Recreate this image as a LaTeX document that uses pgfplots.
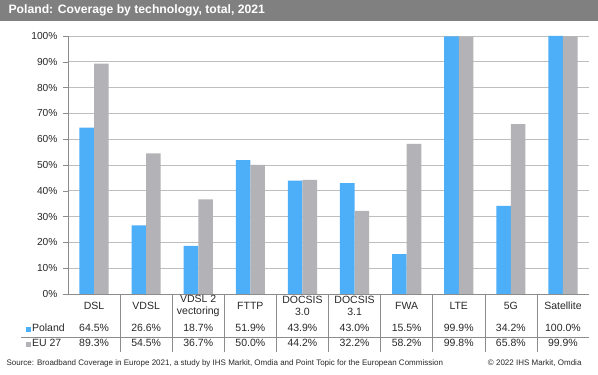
\documentclass[border=0pt]{standalone}
\usepackage{pgfplots}
\pgfplotsset{compat=1.18}
\usepackage{fontspec}
\setmainfont{Liberation Sans}
\definecolor{pl}{RGB}{77,175,248}
\definecolor{eu}{RGB}{179,179,183}
\definecolor{titlebar}{RGB}{128,128,128}
\definecolor{gridc}{RGB}{190,190,190}
\definecolor{axc}{RGB}{140,140,140}
\definecolor{txt}{RGB}{40,40,40}
\begin{document}
\begin{tikzpicture}[x=1pt,y=1pt]
\useasboundingbox (0,0) rectangle (598,375);
\fill[white] (0,0) rectangle (598,375);
\fill[titlebar] (0,354) rectangle (598,375);
\node[anchor=west,text=white,font=\fontsize{12.2}{14}\selectfont\bfseries] at (5,364.5) {Poland: Coverage by technology, total, 2021};
\begin{axis}[
  at={(68pt,81pt)}, anchor=south west,
  scale only axis, width=521pt, height=258pt,
  xmin=0, xmax=10, ymin=0, ymax=100,
  ybar=0pt, bar width=14.6pt,
  axis x line*=bottom, axis y line*=left,
  axis line style={draw=axc,-},
  xtick=\empty,
  ytick={0,10,...,100},
  yticklabel={\pgfmathprintnumber{\tick}\%},
  /pgf/number format/assume math mode=true,
  yticklabel style={font=\fontsize{10.2}{12}\selectfont, text=txt, xshift=-2pt},
  ymajorgrids, grid style={draw=gridc, line width=0.8pt},
  major tick length=5pt,
  tick style={draw=axc},
  ytick pos=left, tick align=outside,
  clip=false,
]
\addplot[fill=pl, draw=none] coordinates {(0.5,64.5) (1.5,26.6) (2.5,18.7) (3.5,51.9) (4.5,43.9) (5.5,43.0) (6.5,15.5) (7.5,99.9) (8.5,34.2) (9.5,100.0)};
\addplot[fill=eu, draw=none] coordinates {(0.5,89.3) (1.5,54.5) (2.5,36.7) (3.5,50.0) (4.5,44.2) (5.5,32.2) (6.5,58.2) (7.5,99.8) (8.5,65.8) (9.5,99.9)};
\end{axis}
% data table
\foreach \i in {1,...,9} {
  \draw[axc, line width=0.6pt] ({68+52.1*\i},81) -- ({68+52.1*\i},23);
}
\draw[axc, line width=0.6pt] (21,38) -- (589,38);
\begin{scope}[every node/.style={text=txt, font=\fontsize{10.5}{12}\selectfont, align=center}]
\foreach \lab [count=\k from 0] in {DSL,VDSL,{VDSL 2\\vectoring},FTTP,{DOCSIS\\3.0},{DOCSIS\\3.1},FWA,LTE,5G,Satellite} {
  \node at ({68+52.1*(\k+0.5)},69) {\lab};
}
\foreach \v [count=\k from 0] in {64.5,26.6,18.7,51.9,43.9,43.0,15.5,99.9,34.2,100.0} {
  \node at ({68+52.1*(\k+0.5)},47) {\v\%};
}
\foreach \v [count=\k from 0] in {89.3,54.5,36.7,50.0,44.2,32.2,58.2,99.8,65.8,99.9} {
  \node at ({68+52.1*(\k+0.5)},32) {\v\%};
}
\node[anchor=west] at (22,47) {\textcolor{pl}{\rule{5pt}{5pt}}\hspace{1.5pt}Poland};
\node[anchor=west] at (22,32) {\textcolor{eu}{\rule{5pt}{5pt}}\hspace{1.5pt}EU 27};
\end{scope}
\node[anchor=west, text=txt, font=\fontsize{8}{9}\selectfont] at (3,12) {Source: Broadband Coverage in Europe 2021, a study by IHS Markit, Omdia and Point Topic for the European Commission};
\node[anchor=east, text=txt, font=\fontsize{8}{9}\selectfont] at (585,12) {\textcopyright{} 2022 IHS Markit, Omdia};
\end{tikzpicture}
\end{document}
